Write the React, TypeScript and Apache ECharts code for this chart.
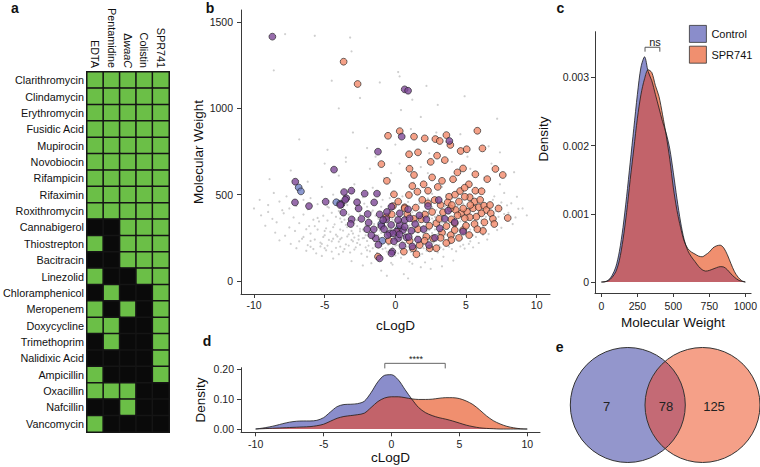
import React, { useEffect, useRef } from "react";
import * as echarts from "echarts";

const FONT = "'Liberation Sans', Arial, Helvetica, sans-serif";

// ---------- Panel a : sensitisation matrix ----------
const conditions = ["EDTA", "Pentamidine", "ΔwaaC", "Colistin", "SPR741"];
const antibiotics = [
  "Clarithromycin", "Clindamycin", "Erythromycin", "Fusidic Acid", "Mupirocin",
  "Novobiocin", "Rifampicin", "Rifaximin", "Roxithromycin", "Cannabigerol",
  "Thiostrepton", "Bacitracin", "Linezolid", "Chloramphenicol", "Meropenem",
  "Doxycycline", "Trimethoprim", "Nalidixic Acid", "Ampicillin", "Oxacillin",
  "Nafcillin", "Vancomycin",
];
const sensitised = [
  [1, 1, 1, 1, 1], [1, 1, 1, 1, 1], [1, 1, 1, 1, 1], [1, 1, 1, 1, 1], [1, 1, 1, 1, 1],
  [1, 1, 1, 1, 1], [1, 1, 1, 1, 1], [1, 1, 1, 1, 1], [1, 1, 1, 1, 1],
  [0, 0, 1, 1, 1], [1, 0, 1, 1, 1], [0, 0, 1, 1, 1], [1, 0, 0, 1, 1],
  [0, 1, 0, 0, 1], [1, 0, 1, 0, 1], [1, 1, 0, 0, 1], [0, 1, 0, 0, 1],
  [0, 0, 0, 0, 1], [1, 0, 0, 0, 1], [1, 1, 1, 0, 0], [0, 0, 1, 0, 0],
  [1, 0, 0, 0, 0],
];

// ---------- Panel b : cLogD vs molecular weight ----------
const libraryPoints = [
  [-1.0, 60], [0.6, 40], [1.8, 80], [-0.2, 95], [2.5, 70], [0.9, 15], [-2.3, 90], [3.3, 85], [1.2, 100], [-0.6, 30],
  [-4.4, 130], [-3.1, 115], [-2.0, 140], [-1.2, 120], [-0.3, 105], [0.4, 135], [1.0, 112], [1.7, 145], [2.6, 128], [3.4, 140], [4.1, 118], [-5.2, 145], [2.1, 108], [0.0, 148], [-1.7, 103],
  [-6.3, 175], [-5.6, 160], [-5.0, 190], [-4.5, 170], [-4.0, 155], [-3.6, 185], [-3.2, 165], [-2.8, 195], [-2.4, 158], [-2.0, 178], [-1.6, 190], [-1.3, 162], [-0.9, 185], [-0.6, 170], [-0.2, 195], [0.2, 160], [0.5, 182], [0.8, 198], [1.1, 168], [1.5, 188], [1.9, 157], [2.2, 176], [2.6, 192], [3.0, 165], [3.4, 183], [3.8, 198], [4.3, 172], [4.9, 188], [5.5, 195], [-7.0, 190], [-6.0, 198], [-3.9, 199],
  [-7.4, 215], [-6.8, 230], [-6.2, 208], [-5.7, 240], [-5.3, 222], [-4.8, 205], [-4.4, 245], [-4.0, 228], [-3.5, 212], [-3.1, 238], [-2.7, 220], [-2.3, 248], [-1.9, 205], [-1.5, 232], [-1.1, 215], [-0.7, 242], [-0.3, 225], [0.1, 208], [0.4, 238], [0.7, 220], [1.0, 248], [1.3, 205], [1.6, 230], [2.0, 215], [2.3, 245], [2.7, 222], [3.1, 208], [3.5, 235], [3.9, 218], [4.4, 242], [4.8, 210], [5.3, 230], [5.9, 220], [6.5, 240], [-8.2, 235], [0.9, 232], [1.8, 242], [-0.5, 210], [2.5, 235], [3.3, 248],
  [-8.5, 280], [-7.8, 262], [-7.1, 290], [-6.5, 255], [-6.0, 275], [-5.5, 298], [-5.0, 265], [-4.6, 285], [-4.1, 258], [-3.7, 292], [-3.3, 270], [-2.9, 252], [-2.5, 288], [-2.1, 265], [-1.7, 295], [-1.4, 258], [-1.0, 278], [-0.6, 262], [-0.2, 290], [0.2, 255], [0.5, 275], [0.8, 298], [1.1, 262], [1.4, 285], [1.7, 255], [2.0, 272], [2.4, 295], [2.8, 260], [3.2, 282], [3.6, 268], [4.0, 292], [4.5, 258], [5.0, 278], [5.5, 265], [6.0, 288], [6.6, 272], [7.2, 295], [1.9, 290], [0.0, 270], [-0.8, 296], [2.6, 278], [3.9, 262], [1.2, 275], [0.6, 258],
  [-9.2, 320], [-8.4, 340], [-7.5, 310], [-6.8, 335], [-6.1, 318], [-5.4, 345], [-4.9, 305], [-4.3, 328], [-3.8, 342], [-3.4, 312], [-2.9, 335], [-2.5, 302], [-2.1, 325], [-1.7, 348], [-1.3, 310], [-0.9, 332], [-0.5, 305], [-0.1, 340], [0.3, 318], [0.6, 345], [0.9, 308], [1.2, 330], [1.5, 312], [1.8, 342], [2.1, 305], [2.4, 328], [2.7, 348], [3.0, 315], [3.3, 338], [3.7, 305], [4.1, 325], [4.6, 345], [5.1, 312], [5.6, 335], [6.2, 318], [6.8, 342], [7.5, 308], [8.3, 330], [1.0, 322], [2.2, 338], [0.2, 332], [3.5, 322], [1.6, 300],
  [-9.5, 380], [-8.7, 360], [-7.9, 392], [-7.2, 368], [-6.5, 385], [-5.8, 355], [-5.1, 378], [-4.5, 395], [-3.9, 362], [-3.3, 385], [-2.7, 352], [-2.2, 375], [-1.7, 398], [-1.2, 360], [-0.7, 382], [-0.2, 355], [0.2, 390], [0.6, 368], [1.0, 385], [1.4, 352], [1.8, 375], [2.2, 395], [2.6, 362], [3.0, 382], [3.4, 358], [3.8, 392], [4.3, 370], [4.8, 385], [5.3, 360], [5.9, 395], [6.4, 372], [7.0, 355], [7.7, 388], [8.5, 368], [9.3, 380], [1.2, 398], [2.4, 370], [0.0, 372],
  [-10.0, 420], [-9.0, 440], [-8.0, 410], [-7.0, 435], [-6.2, 415], [-5.5, 445], [-4.7, 425], [-4.0, 405], [-3.4, 440], [-2.8, 418], [-2.2, 448], [-1.6, 408], [-1.0, 430], [-0.4, 412], [0.2, 445], [0.8, 420], [1.4, 438], [2.0, 405], [2.6, 428], [3.2, 448], [3.8, 415], [4.4, 435], [5.0, 410], [5.7, 442], [6.4, 422], [7.1, 405], [7.9, 438], [8.7, 418], [1.1, 410], [2.9, 412],
  [-9.6, 470], [-8.6, 510], [-7.7, 490], [-6.9, 530], [-6.0, 480], [-5.2, 545], [-4.4, 500], [-3.7, 465], [-3.0, 520], [-2.3, 485], [-1.6, 540], [-0.9, 470], [-0.2, 510], [0.5, 490], [1.2, 535], [1.9, 462], [2.6, 505], [3.3, 545], [4.0, 478], [4.7, 520], [5.4, 495], [6.1, 535], [6.9, 470], [7.7, 510], [8.6, 488], [0.9, 458], [2.2, 525], [-1.2, 500], [3.6, 500], [5.8, 460],
  [-8.9, 590], [-7.4, 640], [-6.2, 575], [-5.0, 680], [-4.0, 610], [-2.9, 560], [-1.8, 650], [-0.8, 595], [0.3, 680], [1.3, 570], [2.3, 625], [3.3, 690], [4.3, 585], [5.3, 650], [6.3, 600], [7.4, 560], [8.4, 630], [-3.5, 690], [1.8, 660], [4.0, 690], [-0.3, 625], [6.8, 680],
  [-6.8, 820], [-4.8, 760], [-3.0, 860], [-1.4, 720], [0.0, 790], [1.1, 880], [2.4, 740], [3.6, 805], [5.1, 720], [6.6, 780], [-2.0, 770], [2.9, 860], [4.6, 850], [-3.5, 715], [7.4, 745],
  [-7.8, 1430], [-8.6, 1220], [-5.7, 1420], [-4.5, 1160], [-3.2, 1410], [-3.1, 1330], [-2.5, 1060], [-1.1, 1150], [0.2, 1210], [0.3, 1185], [0.4, 990], [1.2, 1050], [2.2, 1130], [3.0, 1020], [4.9, 1070], [7.2, 940], [-4.0, 1000], [1.8, 950],
  [0.1, 300], [0.4, 285], [0.7, 310], [1.0, 295], [1.3, 318], [1.6, 280], [1.9, 305], [2.2, 288], [2.5, 312], [2.8, 298], [0.3, 350], [0.8, 362], [1.5, 345], [2.0, 358], [2.7, 340], [3.1, 300], [-0.4, 318], [-0.8, 280], [-1.5, 300], [-2.2, 288], [-3.0, 275], [-3.8, 250], [-4.5, 230], [-5.2, 215], [0.9, 265], [1.4, 242], [2.1, 262], [2.9, 248], [3.5, 285], [4.2, 300], [4.8, 320], [5.3, 298], [5.8, 340], [3.8, 345], [4.6, 368], [0.5, 228], [-0.1, 240], [-1.2, 250], [-2.0, 232], [-2.6, 240],
  [-5.8, 185], [-5.3, 200], [-4.9, 178], [-4.2, 192], [-3.7, 170], [-3.3, 205], [-2.9, 182], [-2.5, 210], [-2.1, 195], [-1.8, 172], [-1.4, 198], [-1.0, 203], [-0.7, 190], [-0.4, 178], [0.0, 205], [0.3, 188], [0.6, 212], [1.0, 180], [1.3, 195], [1.7, 210], [2.0, 190], [2.4, 205], [2.8, 178], [3.2, 195], [3.6, 210], [4.0, 185], [4.6, 200], [5.2, 215],
  [-6.6, 245], [-6.0, 232], [-5.1, 255], [-4.7, 238], [-4.2, 268], [-3.9, 242], [-3.4, 258], [-3.0, 230], [-2.6, 262], [-2.2, 250], [-1.9, 272], [-1.6, 245], [-1.2, 265], [-0.9, 235], [-0.5, 255], [-0.1, 262], [0.3, 242], [0.7, 268], [1.1, 238], [1.5, 258], [1.8, 228], [2.2, 268], [2.6, 248], [3.0, 272], [3.4, 255], [3.8, 238], [4.2, 265], [4.7, 245], [5.2, 280], [5.7, 255], [6.2, 268],
  [-6.3, 300], [-5.7, 318], [-5.0, 290], [-4.4, 312], [-3.9, 298], [-3.5, 325], [-3.1, 290], [-2.7, 318], [-2.3, 298], [-1.9, 315], [-1.5, 330], [-1.1, 292], [-0.7, 318], [-0.3, 298], [0.1, 322], [0.5, 302], [0.8, 335], [1.2, 290], [1.7, 325], [2.0, 318], [2.3, 300], [2.6, 322], [3.0, 292], [3.4, 310], [3.8, 330], [4.3, 288], [4.7, 305], [5.2, 325], [5.7, 300], [6.3, 305], [6.9, 320],
  [-5.5, 365], [-4.8, 350], [-4.2, 372], [-3.6, 355], [-3.0, 368], [-2.5, 385], [-1.9, 362], [-1.4, 378], [-0.9, 365], [-0.4, 388], [0.4, 375], [0.9, 355], [1.6, 368], [2.0, 382], [2.8, 372], [3.2, 395], [3.6, 372], [4.1, 358], [4.5, 392], [5.0, 372], [5.6, 380], [6.1, 355], [6.7, 390], [7.3, 372], [8.0, 395],
  [-4.8, 430], [-3.9, 455], [-2.0, 430], [0.5, 435], [1.7, 450], [3.5, 430], [4.8, 448], [6.0, 428], [7.5, 455], [-6.5, 470], [-2.6, 470], [-0.4, 480], [2.3, 478], [4.5, 470], [7.0, 490], [-8.2, 460], [8.2, 450], [-9.0, 400], [9.0, 420], [-7.5, 420],
];
const controlOnlyHits = [
  [-6.84, 542], [-6.68, 519], [-4.18, 456], [-0.92, 233], [-3.9, 448], [0.2, 300], [-1.0, 330],
];
const sharedHits = [
  [-8.70, 1415], [0.66, 1110], [0.90, 1102], [0.45, 836], [3.82, 811], [-1.23, 749], [-4.34, 645], [-7.08, 575],
  [-7.10, 455], [-6.11, 434], [-4.93, 459], [-3.82, 444], [-3.63, 515], [-3.47, 479], [-3.11, 523], [-2.71, 456],
  [-2.17, 506], [-1.30, 506], [-3.68, 396], [-3.09, 357], [-3.16, 330], [-1.96, 388], [-1.89, 338], [-1.53, 299],
  [-1.11, 386], [-0.99, 318], [-0.64, 357], [-0.28, 430], [-1.39, 247], [-0.21, 170], [-1.11, 131], [-0.40, 276],
  [0.07, 286], [0.54, 295], [0.78, 253], [0.19, 247], [0.66, 353], [0.31, 324], [3.07, 469], [2.31, 434],
  [3.73, 407], [3.14, 305], [2.19, 357], [4.79, 286], [2.38, 208], [1.13, 291], [0.66, 314], [-0.17, 276],
  [-0.28, 160], [0.19, 353], [0.31, 392], [1.01, 363], [-0.87, 353], [-3.90, 440], [-3.55, 470], [-0.80, 300],
  [-0.55, 265], [0.95, 255], [1.40, 330], [-0.10, 230], [-2.40, 360], [-2.00, 300], [0.50, 205], [1.20, 200],
  [-1.70, 265], [2.80, 250], [4.20, 340], [-0.60, 400], [1.70, 380], [-2.60, 420], [0.90, 415], [-1.50, 455],
  [2.00, 300], [3.50, 360], [-0.30, 325], [0.30, 270], [1.60, 240], [-1.20, 210],
];
const spr741OnlyHits = [
  [-3.66, 1270], [-2.67, 1141], [0.31, 868], [-0.52, 841], [1.32, 836], [2.08, 826], [2.83, 822], [3.14, 811],
  [3.61, 845], [3.89, 788], [5.80, 870], [4.62, 753], [5.05, 763], [6.16, 768], [-0.99, 677], [0.97, 734],
  [1.60, 745], [2.95, 726], [1.32, 614], [4.79, 652], [4.39, 629], [4.08, 589], [5.66, 618], [7.08, 649],
  [7.60, 614], [-0.10, 502], [0.96, 498], [1.56, 517], [2.31, 523], [2.78, 469], [3.80, 488], [4.22, 500],
  [4.58, 521], [5.66, 523], [5.26, 485], [4.91, 488], [2.31, 450], [1.44, 425], [0.66, 427], [3.37, 398],
  [4.27, 411], [4.67, 392], [5.07, 401], [5.50, 421], [5.90, 427], [6.28, 436], [6.44, 411], [6.09, 392],
  [5.73, 372], [5.26, 369], [4.91, 363], [3.96, 357], [4.20, 334], [3.61, 318], [2.90, 334], [1.84, 357],
  [2.67, 247], [2.19, 257], [3.92, 266], [3.96, 237], [5.22, 266], [4.79, 295], [4.20, 295], [6.20, 290],
  [6.75, 392], [7.95, 365], [1.25, 189], [1.72, 208], [2.43, 189], [1.49, 155], [2.07, 233], [1.01, 233],
  [0.19, 286], [-0.64, 372], [-0.26, 386], [-0.17, 434], [0.66, 421], [0.85, 386], [-0.45, 233], [-1.23, 141],
  [2.50, 690], [3.30, 580], [2.00, 560], [3.00, 545], [5.20, 560], [6.10, 520], [4.50, 460], [3.20, 440],
  [3.70, 455], [5.60, 460], [6.70, 440], [7.30, 420], [6.90, 360], [6.30, 340], [5.60, 330], [5.00, 320],
  [4.40, 380], [3.90, 420], [2.60, 400], [2.10, 385], [1.60, 300], [2.40, 320], [3.30, 280], [3.60, 220],
  [4.50, 250], [5.80, 300], [7.00, 330], [1.30, 360], [0.60, 170], [2.90, 190], [3.20, 250], [4.00, 440],
  [5.30, 440], [6.00, 470], [4.80, 420], [1.90, 470], [0.20, 460], [-0.60, 580], [2.60, 600], [1.00, 650],
  [3.50, 700], [6.50, 590], [4.90, 540], [1.20, 550], [3.10, 360],
];

// ---------- Panel c : molecular weight density ----------
const mwGrid = [0, 25, 50, 75, 100, 125, 150, 175, 200, 225, 250, 275, 300, 325, 350, 375, 400, 425, 450, 475, 500, 525, 550, 575, 600, 625, 650, 675, 700, 725, 750, 775, 800, 825, 850, 875, 900, 925, 950, 975, 1000];
const mwControl = [0, 0.000005, 0.00003, 0.0001, 0.00022, 0.00045, 0.0008, 0.00125, 0.00175, 0.00225, 0.00275, 0.00315, 0.0033, 0.00308, 0.00295, 0.00275, 0.00255, 0.00235, 0.00218, 0.00195, 0.0016, 0.00122, 0.00088, 0.00062, 0.00046, 0.00037, 0.0003, 0.00023, 0.00018, 0.00016, 0.00017, 0.00019, 0.00021, 0.000225, 0.00022, 0.00018, 0.00012, 0.00007, 0.00003, 0.00001, 0];
const mwSPR741 = [0, 0.000003, 0.00002, 0.00007, 0.00015, 0.00032, 0.00062, 0.00102, 0.0015, 0.00195, 0.0024, 0.00275, 0.00298, 0.00311, 0.00307, 0.00288, 0.00272, 0.00245, 0.00215, 0.0018, 0.00138, 0.00105, 0.0008, 0.0006, 0.00049, 0.00044, 0.00041, 0.00038, 0.00037, 0.0004, 0.00044, 0.0005, 0.00053, 0.00054, 0.0005, 0.0004, 0.00027, 0.00015, 0.00007, 0.00002, 0];

// ---------- Panel d : cLogD density ----------
const logdGrid = [-10, -9.5, -9, -8.5, -8, -7.5, -7, -6.5, -6, -5.5, -5, -4.5, -4, -3.5, -3, -2.5, -2, -1.5, -1, -0.5, 0, 0.5, 1, 1.5, 2, 2.5, 3, 3.5, 4, 4.5, 5, 5.5, 6, 6.5, 7, 7.5, 8, 8.5, 9, 9.5, 10];
const logdControl = [0, 0.003, 0.007, 0.012, 0.018, 0.023, 0.026, 0.027, 0.027, 0.029, 0.038, 0.057, 0.075, 0.082, 0.083, 0.085, 0.093, 0.122, 0.158, 0.18, 0.182, 0.165, 0.132, 0.1, 0.072, 0.055, 0.045, 0.038, 0.033, 0.027, 0.02, 0.013, 0.008, 0.004, 0.002, 0.001, 0, 0, 0, 0, 0];
const logdSPR741 = [0, 0.001, 0.002, 0.003, 0.004, 0.005, 0.006, 0.007, 0.008, 0.011, 0.016, 0.026, 0.036, 0.042, 0.045, 0.048, 0.053, 0.072, 0.092, 0.104, 0.108, 0.108, 0.105, 0.101, 0.099, 0.099, 0.1, 0.103, 0.105, 0.105, 0.102, 0.094, 0.082, 0.064, 0.044, 0.028, 0.017, 0.009, 0.004, 0.001, 0];

// ---------- Panel e : Venn counts ----------
const vennCounts = { controlOnly: 7, both: 78, spr741Only: 125 };

const BLUE = "#8a8dcb";
const ORANGE = "#f08f6f";
const OVERLAP = "#c2636a";
const GREEN = "#6bbf47";

// Venn geometry
const VENN_R = 57.5;
const VENN_CY = 405;
const VENN_C1 = 627.8;
const VENN_C2 = 702.5;
const vennHalfD = (VENN_C2 - VENN_C1) / 2;
const vennH = Math.sqrt(VENN_R * VENN_R - vennHalfD * vennHalfD);
echarts.graphic.registerShape(
  "vennLens",
  echarts.graphic.extendPath(
    `M0 0 A${VENN_R} ${VENN_R} 0 0 1 0 ${2 * vennH} A${VENN_R} ${VENN_R} 0 0 1 0 0 Z`,
    {}
  )
);

const pairs = (xs: number[], ys: number[]) => xs.map((x, i) => [x, ys[i]]);
const minPairs = (xs: number[], a: number[], b: number[]) => xs.map((x, i) => [x, Math.min(a[i], b[i])]);

const valueAxis = (gridIndex: number, extra: any) => ({
  type: "value",
  gridIndex,
  splitLine: { show: false },
  axisLine: { show: true, onZero: false, lineStyle: { color: "#3a3a3a", width: 1 } },
  axisTick: { show: true, length: 4, lineStyle: { color: "#3a3a3a" } },
  nameTextStyle: { color: "#111", fontSize: 13.5, fontFamily: FONT },
  ...extra,
  axisLabel: { color: "#222", fontSize: 10.5, fontFamily: FONT, ...(extra.axisLabel || {}) },
});

const areaSeries = (name: string, data: any, color: string, idx: number, z: number) => ({
  type: "line", name, xAxisIndex: idx, yAxisIndex: idx, data, smooth: 0.3,
  symbol: "none", lineStyle: { width: 0, opacity: 0 }, areaStyle: { color, opacity: 1 }, silent: true, z,
});
const lineSeries = (name: string, data: any, idx: number) => ({
  type: "line", name, xAxisIndex: idx, yAxisIndex: idx, data, smooth: 0.3,
  symbol: "none", lineStyle: { width: 0.8, color: "#1a1a1a" }, silent: true, z: 5,
});

const panelLabel = (t: string, x: number, y: number) => ({
  type: "text", x, y,
  style: { text: t, fontSize: 14, fontWeight: "bold", fontFamily: FONT, fill: "#111", align: "center", verticalAlign: "middle" },
});

export default function App() {
  const ref = useRef<HTMLDivElement>(null);
  useEffect(() => {
    if (!ref.current) return;
    const chart = echarts.init(ref.current, null, { renderer: "svg" });
    const heatData: number[][] = [];
    sensitised.forEach((row, i) => row.forEach((v, j) => heatData.push([j, i, v])));
    const plain = (v: number) => String(v);

    const option: any = {
      animation: false,
      backgroundColor: "#fff",
      textStyle: { fontFamily: FONT },
      grid: [
        { left: 84, top: 72, width: 85, height: 360 },
        { left: 241, top: 10, width: 309, height: 284 },
        { left: 595, top: 31.7, width: 163, height: 261.3 },
        { left: 241, top: 367.7, width: 299, height: 64.6 },
      ],
      xAxis: [
        {
          type: "category", gridIndex: 0, position: "top", data: conditions,
          axisLine: { show: false }, axisTick: { show: false }, splitLine: { show: false },
          axisLabel: {
            rotate: 90, margin: 4, fontSize: 10.8, color: "#111", fontFamily: FONT, interval: 0,
            formatter: (v: string) => (v === "ΔwaaC" ? "{n|Δ}{i|waaC}" : v),
            rich: { n: { fontSize: 10.8, fontFamily: FONT, color: "#111" }, i: { fontSize: 10.8, fontStyle: "italic", fontFamily: FONT, color: "#111" } },
          },
        },
        valueAxis(1, {
          min: -10.92, max: 10.94, name: "cLogD", nameLocation: "middle", nameGap: 24,
          axisLabel: { customValues: [-10, -5, 0, 5, 10], margin: 5, formatter: plain },
          axisTick: { show: true, length: 4, lineStyle: { color: "#3a3a3a" }, customValues: [-10, -5, 0, 5, 10] },
        }),
        valueAxis(2, {
          min: -44.6, max: 1040, name: "Molecular Weight", nameLocation: "middle", nameGap: 20,
          axisLabel: { customValues: [0, 250, 500, 750, 1000], margin: 7, formatter: plain },
          axisTick: { show: true, length: 4, lineStyle: { color: "#3a3a3a" }, customValues: [0, 250, 500, 750, 1000] },
        }),
        valueAxis(3, {
          min: -11.08, max: 10.94, name: "cLogD", nameLocation: "middle", nameGap: 17,
          axisLabel: { customValues: [-10, -5, 0, 5, 10], margin: 6, formatter: plain },
          axisTick: { show: true, length: 4, lineStyle: { color: "#3a3a3a" }, customValues: [-10, -5, 0, 5, 10] },
        }),
      ],
      yAxis: [
        {
          type: "category", gridIndex: 0, data: antibiotics, inverse: true,
          axisLine: { show: false }, axisTick: { show: false }, splitLine: { show: false },
          axisLabel: { margin: 3, fontSize: 10.8, color: "#111", fontFamily: FONT, interval: 0 },
        },
        valueAxis(1, {
          min: -75.3, max: 1569.5, name: "Molecular Weight", nameLocation: "middle", nameGap: 33,
          axisLabel: { customValues: [0, 500, 1000, 1500], margin: 8, formatter: plain },
          axisTick: { show: true, length: 4, lineStyle: { color: "#3a3a3a" }, customValues: [0, 500, 1000, 1500] },
        }),
        valueAxis(2, {
          min: -0.000161, max: 0.003668,
          axisLabel: { customValues: [0, 0.001, 0.002, 0.003], margin: 6, formatter: (v: number) => (v === 0 ? "0" : v.toFixed(3)) },
          axisTick: { show: true, length: 4, lineStyle: { color: "#3a3a3a" }, customValues: [0, 0.001, 0.002, 0.003] },
        }),
        valueAxis(3, {
          min: -0.011, max: 0.2054, name: "Density", nameLocation: "middle", nameGap: 34,
          axisLabel: { customValues: [0, 0.1, 0.2], margin: 7, formatter: (v: number) => v.toFixed(2) },
          axisTick: { show: true, length: 4, lineStyle: { color: "#3a3a3a" }, customValues: [0, 0.1, 0.2] },
        }),
      ],
      visualMap: {
        type: "piecewise", show: false, seriesIndex: 0, dimension: 2,
        pieces: [{ min: 0.5, max: 1.5, color: GREEN }, { min: -0.5, max: 0.5, color: "#0a0a0a" }],
      },
      legend: {
        left: 684, top: 20, orient: "vertical", itemWidth: 17, itemHeight: 17, itemGap: 3, selectedMode: false,
        textStyle: { fontSize: 11, color: "#111", fontFamily: FONT },
        data: [
          { name: "Control", icon: "rect", itemStyle: { color: BLUE, borderColor: "#333", borderWidth: 0.8 } },
          { name: "SPR741", icon: "rect", itemStyle: { color: ORANGE, borderColor: "#333", borderWidth: 0.8 } },
        ],
      },
      series: [
        {
          type: "heatmap", xAxisIndex: 0, yAxisIndex: 0, data: heatData, silent: true,
          itemStyle: { borderColor: "#151515", borderWidth: 1.5 },
        },
        { type: "scatter", name: "Library", xAxisIndex: 1, yAxisIndex: 1, data: libraryPoints, symbolSize: 2.2, itemStyle: { color: "#c2c2c2" }, silent: true, z: 1 },
        { type: "scatter", name: "Control hits", xAxisIndex: 1, yAxisIndex: 1, data: controlOnlyHits, symbolSize: 6.8, itemStyle: { color: "#6f80c4", borderColor: "#1a1a1a", borderWidth: 0.8 }, silent: true, z: 2 },
        { type: "scatter", name: "SPR741 hits", xAxisIndex: 1, yAxisIndex: 1, data: spr741OnlyHits, symbolSize: 6.8, itemStyle: { color: "#f2896a", borderColor: "#1a1a1a", borderWidth: 0.8 }, silent: true, z: 3 },
        { type: "scatter", name: "Shared hits", xAxisIndex: 1, yAxisIndex: 1, data: sharedHits, symbolSize: 6.8, itemStyle: { color: "#7d4796", borderColor: "#1a1a1a", borderWidth: 0.8 }, silent: true, z: 4 },

        areaSeries("Control", pairs(mwGrid, mwControl), BLUE, 2, 2),
        areaSeries("SPR741", pairs(mwGrid, mwSPR741), ORANGE, 2, 3),
        areaSeries("MW overlap", minPairs(mwGrid, mwControl, mwSPR741), OVERLAP, 2, 4),
        lineSeries("Control MW line", pairs(mwGrid, mwControl), 2),
        lineSeries("SPR741 MW line", pairs(mwGrid, mwSPR741), 2),
        {
          type: "line", name: "ns bracket", xAxisIndex: 2, yAxisIndex: 2, symbol: "none", clip: false, silent: true,
          data: [[303, 0.003375], [303, 0.00344], [406, 0.00344], [406, 0.003375]],
          lineStyle: { color: "#555", width: 1 },
        },

        areaSeries("Control cLogD", pairs(logdGrid, logdControl), BLUE, 3, 2),
        areaSeries("SPR741 cLogD", pairs(logdGrid, logdSPR741), ORANGE, 3, 3),
        areaSeries("cLogD overlap", minPairs(logdGrid, logdControl, logdSPR741), OVERLAP, 3, 4),
        lineSeries("Control cLogD line", pairs(logdGrid, logdControl), 3),
        lineSeries("SPR741 cLogD line", pairs(logdGrid, logdSPR741), 3),
        {
          type: "line", name: "**** bracket", xAxisIndex: 3, yAxisIndex: 3, symbol: "none", clip: false, silent: true,
          data: [[-0.49, 0.203], [-0.49, 0.22], [3.96, 0.22], [3.96, 0.203]],
          lineStyle: { color: "#666", width: 1 },
        },
      ],
      graphic: [
        panelLabel("a", 15, 8),
        panelLabel("b", 210, 8),
        panelLabel("c", 560.5, 8),
        panelLabel("d", 207, 341),
        panelLabel("e", 559.7, 347),
        {
          type: "text", x: 543, y: 139, rotation: Math.PI / 2,
          style: { text: "Density", fontSize: 13.5, fontFamily: FONT, fill: "#111", align: "center", verticalAlign: "middle" },
        },
        { type: "text", x: 655, y: 42, style: { text: "ns", fontSize: 11, fontFamily: FONT, fill: "#222", align: "center", verticalAlign: "middle" } },
        { type: "text", x: 416, y: 359, style: { text: "****", fontSize: 9, fontFamily: FONT, fill: "#222", align: "center", verticalAlign: "middle" } },
        { type: "circle", shape: { cx: VENN_C1, cy: VENN_CY, r: VENN_R }, style: { fill: "#9396cc", stroke: "none" } },
        { type: "circle", shape: { cx: VENN_C2, cy: VENN_CY, r: VENN_R }, style: { fill: "#f5a088", stroke: "none" } },
        { type: "vennLens", x: VENN_C1 + vennHalfD, y: VENN_CY - vennH, style: { fill: "#c46a75", stroke: "none" } },
        { type: "circle", shape: { cx: VENN_C1, cy: VENN_CY, r: VENN_R }, style: { fill: "none", stroke: "#333", lineWidth: 1 } },
        { type: "circle", shape: { cx: VENN_C2, cy: VENN_CY, r: VENN_R }, style: { fill: "none", stroke: "#333", lineWidth: 1 } },
        { type: "text", x: 606.7, y: 406, style: { text: String(vennCounts.controlOnly), fontSize: 13, fontFamily: FONT, fill: "#222", align: "center", verticalAlign: "middle" } },
        { type: "text", x: 666, y: 406, style: { text: String(vennCounts.both), fontSize: 13, fontFamily: FONT, fill: "#222", align: "center", verticalAlign: "middle" } },
        { type: "text", x: 714, y: 406, style: { text: String(vennCounts.spr741Only), fontSize: 13, fontFamily: FONT, fill: "#222", align: "center", verticalAlign: "middle" } },
      ],
    };
    chart.setOption(option);
    return () => chart.dispose();
  }, []);
  return (
    <div
      ref={ref}
      style={{ position: "fixed", left: 0, top: 0, width: 760, height: 467, background: "#fff" }}
    />
  );
}
